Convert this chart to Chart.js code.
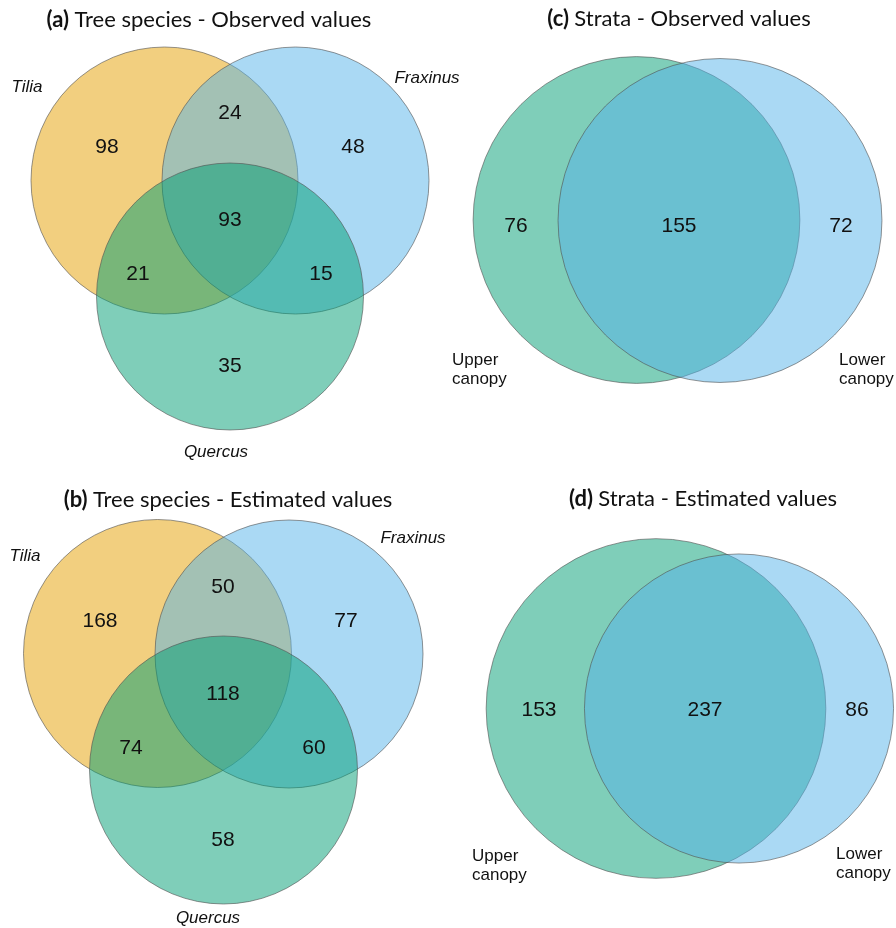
<!DOCTYPE html>
<html>
<head>
<meta charset="utf-8">
<script src="https://cdn.jsdelivr.net/npm/chart.js@4"></script>
<style>
  html, body { margin: 0; padding: 0; background: #fff; }
  #wrap { position: relative; width: 896px; height: 928px; }
</style>
</head>
<body>
<div id="wrap"><canvas id="venn"></canvas></div>
<script>
// panel headings
var panelTags = ['(a)', '(b)', '(c)', '(d)'];
var panelTitles = ['Tree species - Observed values', 'Tree species - Estimated values',
                   'Strata - Observed values', 'Strata - Estimated values'];

// set names
var speciesNames = ['Tilia', 'Fraxinus', 'Quercus'];
var strataNames = [['Upper', 'canopy'], ['Lower', 'canopy']];

// region counts: Tilia only, Fraxinus only, Quercus only, T+F, T+Q, F+Q, all three
var speciesObserved = [98, 48, 35, 24, 21, 15, 93];
var speciesEstimated = [168, 77, 58, 50, 74, 60, 118];

// region counts: upper only, lower only, both
var strataObserved = [76, 72, 155];
var strataEstimated = [153, 86, 237];

// ---- layout (canvas pixels) ----
var titlePos = [[209, 27], [228, 507], [679, 26], [703, 506]];

// three-set panels: circle centres, shared radius, centre of the triple region
var triLayout = [
  { circles: [[164.5, 180.5], [295.5, 180.5], [230, 296.5]], r: 133.5, mid: [230, 220],
    names: [[27, 87], [427, 78], [216, 452]] },
  { circles: [[157.5, 653.5], [289, 654], [223.5, 770]], r: 134, mid: [223, 694],
    names: [[25, 556], [413, 538], [208, 918]] }
];
var triOffsets = [[-123, -73], [123, -73], [0, 146], [0, -107], [-92, 54], [91, 54], [0, 0]];

// two-set panels: circle radius follows sqrt(set size) * k
// label x: upper only, lower only, both
var duoLayout = [
  { circles: [[636.5, 220], [720, 220.5]], k: 10.75, labels: [516, 841, 679], y: 226,
    names: [[452, 360], [839, 360]] },
  { circles: [[656, 708.5], [739, 708.5]], k: 8.6, labels: [539, 857, 705], y: 710,
    names: [[472, 856], [836, 854]] }
];

var orange = 'rgba(230,159,0,0.5)';
var blue = 'rgba(86,180,233,0.5)';
var green = 'rgba(0,158,115,0.5)';
var edge = 'rgba(80,80,80,0.6)';

var speciesCounts = [speciesObserved, speciesEstimated];
var strataCounts = [strataObserved, strataEstimated];

var datasets = [];
triLayout.forEach(function (p) {
  datasets.push({
    data: p.circles.map(function (c) { return { x: c[0], y: c[1], r: p.r }; }),
    backgroundColor: [orange, blue, green],
    borderColor: edge,
    borderWidth: 1,
    clip: false
  });
});
duoLayout.forEach(function (p, i) {
  var v = strataCounts[i];
  var sizes = [v[0] + v[2], v[1] + v[2]];
  datasets.push({
    data: p.circles.map(function (c, j) { return { x: c[0], y: c[1], r: p.k * Math.sqrt(sizes[j]) }; }),
    backgroundColor: [green, blue],
    borderColor: edge,
    borderWidth: 1,
    clip: false
  });
});

var vennText = {
  id: 'vennText',
  afterDatasetsDraw: function (chart) {
    var ctx = chart.ctx, sx = chart.scales.x, sy = chart.scales.y;
    function px(x) { return sx.getPixelForValue(x); }
    function py(y) { return sy.getPixelForValue(y); }
    ctx.save();
    ctx.fillStyle = '#111';
    ctx.textBaseline = 'middle';

    // region counts
    ctx.font = '21px "Liberation Sans", Arial, sans-serif';
    ctx.textAlign = 'center';
    triLayout.forEach(function (p, i) {
      speciesCounts[i].forEach(function (n, j) {
        ctx.fillText(String(n), px(p.mid[0] + triOffsets[j][0]), py(p.mid[1] + triOffsets[j][1]));
      });
    });
    duoLayout.forEach(function (p, i) {
      strataCounts[i].forEach(function (n, j) {
        ctx.fillText(String(n), px(p.labels[j]), py(p.y));
      });
    });

    // set names
    ctx.font = 'italic 17px "Liberation Sans", Arial, sans-serif';
    triLayout.forEach(function (p) {
      speciesNames.forEach(function (s, j) {
        ctx.fillText(s, px(p.names[j][0]), py(p.names[j][1]));
      });
    });
    ctx.font = '17px "Liberation Sans", Arial, sans-serif';
    ctx.textAlign = 'left';
    duoLayout.forEach(function (p) {
      strataNames.forEach(function (lines, j) {
        lines.forEach(function (t, k) {
          ctx.fillText(t, px(p.names[j][0]), py(p.names[j][1] + k * 19));
        });
      });
    });

    // headings: bold tag + regular text, centred
    ctx.textBaseline = 'alphabetic';
    panelTags.forEach(function (tag, i) {
      var bold = 'bold 22px Lato, "Open Sans", sans-serif';
      var reg = '22px Lato, "Open Sans", sans-serif';
      ctx.font = bold;
      var w1 = ctx.measureText(tag + ' ').width;
      ctx.font = reg;
      var w2 = ctx.measureText(panelTitles[i]).width;
      var x0 = px(titlePos[i][0]) - (w1 + w2) / 2, y0 = py(titlePos[i][1]);
      ctx.font = bold;
      ctx.fillText(tag + ' ', x0, y0);
      ctx.font = reg;
      ctx.fillText(panelTitles[i], x0 + w1, y0);
    });
    ctx.restore();
  }
};

new Chart(document.getElementById('venn'), {
  type: 'bubble',
  data: { datasets: datasets },
  options: {
    responsive: true,
    maintainAspectRatio: false,
    animation: false,
    events: [],
    layout: { padding: 0, autoPadding: false },
    scales: {
      x: { type: 'linear', min: 0, max: 896, display: false },
      y: { type: 'linear', min: 0, max: 928, reverse: true, display: false }
    },
    plugins: { legend: { display: false }, tooltip: { enabled: false } }
  },
  plugins: [vennText]
});
</script>
</body>
</html>
